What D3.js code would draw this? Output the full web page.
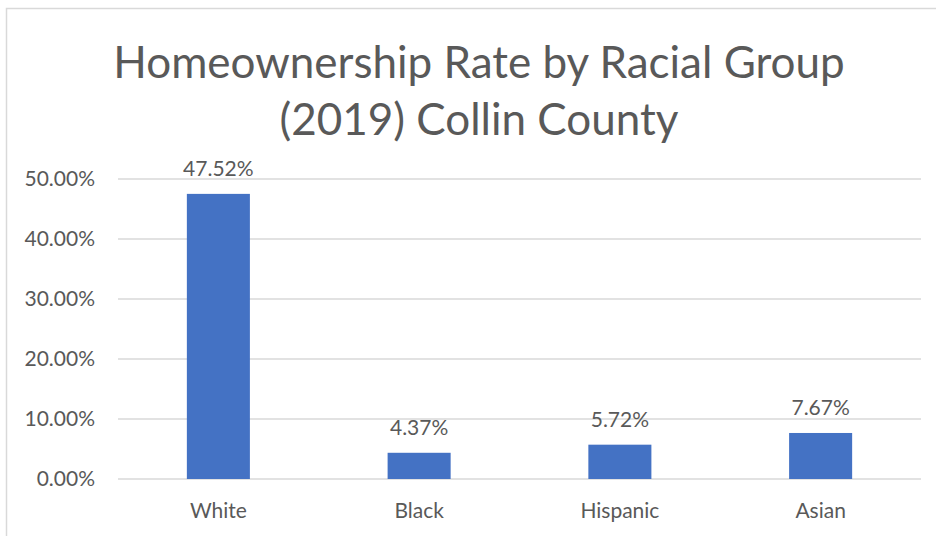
<!DOCTYPE html>
<html>
<head>
<meta charset="utf-8">
<script src="https://cdn.jsdelivr.net/npm/d3@7"></script>
<style>
body { margin: 0; background: #fff; }
svg { display: block; }
text { font-family: Lato, "Open Sans", sans-serif; fill: #595959; }
</style>
</head>
<body>
<svg id="chart" width="936" height="536"></svg>
<script>
var categories = ["White", "Black", "Hispanic", "Asian"];
var rates = [0.4752, 0.0437, 0.0572, 0.0767];
var tickValues = [0, 0.1, 0.2, 0.3, 0.4, 0.5];
var titleLines = ["Homeownership Rate by Racial Group", "(2019) Collin County"];

var barColor = "#4472C4";
var gridColor = "#D9D9D9";
var textColor = "#595959";

var svg = d3.select("#chart");

// chart frame (only left and top edges show in the crop)
svg.append("rect")
    .attr("x", 6.5).attr("y", 8.5)
    .attr("width", 960).attr("height", 560)
    .attr("fill", "none")
    .attr("stroke", gridColor)
    .attr("stroke-width", 1.5);

// title
svg.append("g").selectAll("text")
    .data(titleLines)
    .enter().append("text")
    .attr("x", 479)
    .attr("y", function (d, i) { return 78 + i * 57; })
    .attr("text-anchor", "middle")
    .style("font-size", "44px")
    .text(function (d) { return d; });

var x = d3.scaleBand()
    .domain(categories)
    .range([118, 921])
    .paddingInner(0.686)
    .paddingOuter(0.343);

var y = d3.scaleLinear()
    .domain([0, 0.5])
    .range([479, 179]);

// gridlines
svg.append("g").selectAll("line")
    .data(tickValues)
    .enter().append("line")
    .attr("x1", 118).attr("x2", 921)
    .attr("y1", function (d) { return y(d); })
    .attr("y2", function (d) { return y(d); })
    .attr("stroke", gridColor)
    .attr("stroke-width", 1.5);

// y axis labels
var yAxis = d3.axisLeft(y)
    .tickValues(tickValues)
    .tickFormat(d3.format(".2%"))
    .tickSize(0)
    .tickPadding(23);
var yg = svg.append("g").attr("transform", "translate(118,0)").call(yAxis);
yg.select(".domain").remove();
yg.selectAll("text")
    .attr("fill", textColor)
    .style("font-size", "21px")
    .style("font-family", "Lato, 'Open Sans', sans-serif");

// bars
svg.append("g").selectAll("rect")
    .data(rates)
    .enter().append("rect")
    .attr("x", function (d, i) { return x(categories[i]); })
    .attr("y", function (d) { return y(d); })
    .attr("width", x.bandwidth())
    .attr("height", function (d) { return y(0) - y(d); })
    .attr("fill", barColor);

// data labels
svg.append("g").selectAll("text")
    .data(rates)
    .enter().append("text")
    .attr("x", function (d, i) { return x(categories[i]) + x.bandwidth() / 2; })
    .attr("y", function (d) { return y(d) - 18; })
    .attr("text-anchor", "middle")
    .style("font-size", "21px")
    .text(function (d) { return d3.format(".2%")(d); });

// x axis labels
var xAxis = d3.axisBottom(x).tickSize(0).tickPadding(0);
var xg = svg.append("g").attr("transform", "translate(0,479)").call(xAxis);
xg.select(".domain").remove();
xg.selectAll("text")
    .attr("fill", textColor)
    .attr("dy", null)
    .attr("y", 39)
    .style("font-size", "21px")
    .style("font-family", "Lato, 'Open Sans', sans-serif");
</script>
</body>
</html>
